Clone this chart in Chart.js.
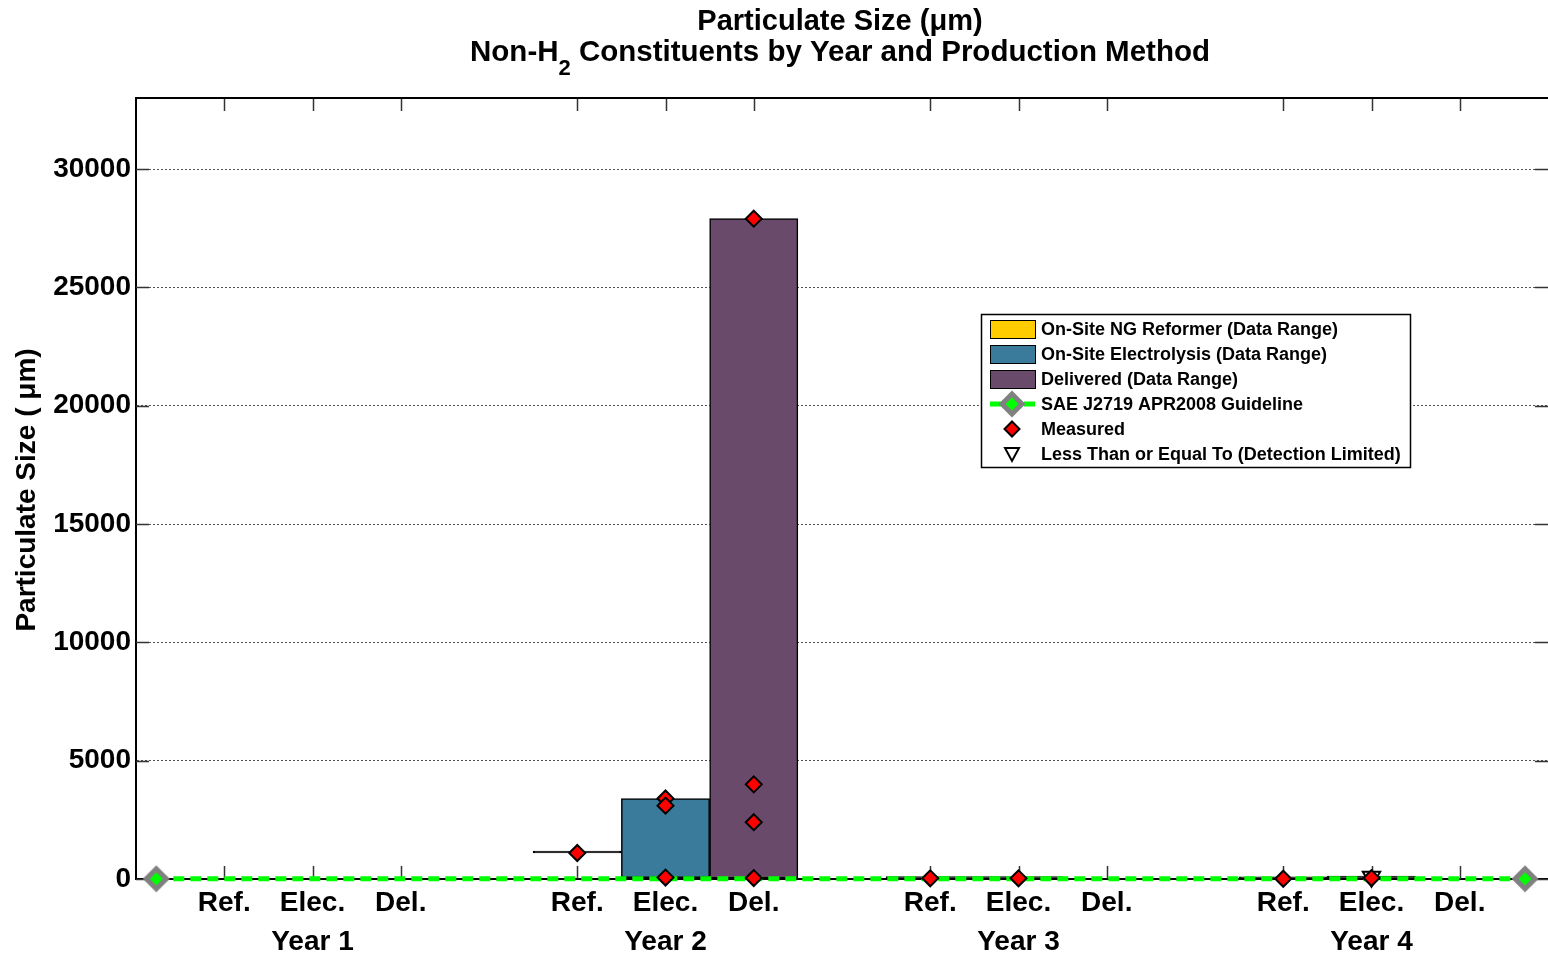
<!DOCTYPE html>
<html>
<head>
<meta charset="utf-8">
<script src="https://cdn.jsdelivr.net/npm/chart.js@4.4.1/dist/chart.umd.min.js"></script>
<style>
  body { margin: 0; background: #fff; }
  #wrap { width: 1548px; height: 957px; }
</style>
</head>
<body>
<div id="wrap"><canvas id="chart" width="1548" height="957"></canvas></div>
<script>
// categories
var years = ['Year 1', 'Year 2', 'Year 3', 'Year 4'];
var methods = ['Ref.', 'Elec.', 'Del.'];
var yTicks = [0, 5000, 10000, 15000, 20000, 25000, 30000];

// data range per year, [min, max] (null = no data)
var refRange = [null, [1100, 1100], [20, 60], [10, 40]];
var elecRange = [null, [60, 3400], [20, 60], [40, 100]];
var delRange = [null, [40, 27900], null, null];

// measured values per year
var refMeasured = [[], [1100], [30], [10]];
var elecMeasured = [[], [3400, 3100, 60], [30], [40]];
var delMeasured = [[], [27900, 4000, 2400, 40], [], []];

// less than or equal to (detection limited)
var elecLessThan = [[], [], [], [100]];

// SAE J2719 guideline
var guideline = 10;
var guidelineSpan = [0.23, 15.74];

// x slot of year i, method j
function slot(i, j) { return i * 4 + j + 1; }

function rangeData(arr, j) {
    var out = [];
    arr.forEach(function(r, i) { if (r) out.push({ x: slot(i, j), y: r }); });
    return out;
}
function pointData(lists) {
    var out = [];
    lists.forEach(function(arr, j) {
        arr.forEach(function(vals, i) {
            vals.forEach(function(v) { out.push({ x: slot(i, j), y: v }); });
        });
    });
    return out;
}

var slotTicks = [];
years.forEach(function(y, i) { methods.forEach(function(m, j) { slotTicks.push(slot(i, j)); }); });

function slotLabel(v) {
    var i = Math.floor((v - 1) / 4), j = (v - 1) % 4;
    if (j === 1) return [methods[j], years[i]];
    return [methods[j], ''];
}

function diamond(g, x, y, r) {
    g.beginPath();
    g.moveTo(x, y - r); g.lineTo(x + r, y); g.lineTo(x, y + r); g.lineTo(x - r, y);
    g.closePath();
}

// guideline marker: gray diamond with green core
var glMark = document.createElement('canvas');
glMark.width = 30; glMark.height = 30;
(function() {
    var g = glMark.getContext('2d');
    g.fillStyle = '#808080'; diamond(g, 15, 15, 13.5); g.fill();
    g.fillStyle = '#00ff00'; diamond(g, 15, 15, 6.5); g.fill();
})();

var COL_REF = '#ffcc00', COL_ELEC = '#3a7a9b', COL_DEL = '#6a4a6a';
var FONT = '"Liberation Sans", Arial, sans-serif';

var decor = {
    id: 'decor',
    beforeDatasetsDraw: function(chart) {
        var c = chart.ctx, a = chart.chartArea, xs = chart.scales.x, ys = chart.scales.y;
        c.save();
        c.strokeStyle = '#333';
        c.lineWidth = 1.5;
        slotTicks.forEach(function(v) {
            var px = Math.round(xs.getPixelForValue(v)) + 0.5;
            c.beginPath(); c.moveTo(px, a.top); c.lineTo(px, a.top + 13); c.stroke();
            c.beginPath(); c.moveTo(px, a.bottom); c.lineTo(px, a.bottom - 13); c.stroke();
        });
        yTicks.forEach(function(v) {
            var py = Math.round(ys.getPixelForValue(v)) + 0.5;
            c.beginPath(); c.moveTo(a.left, py); c.lineTo(a.left + 13, py); c.stroke();
            c.beginPath(); c.moveTo(a.right, py); c.lineTo(a.right - 13, py); c.stroke();
        });
        c.restore();
    },
    afterDraw: function(chart) {
        var c = chart.ctx, a = chart.chartArea;
        c.save();
        // top frame line
        c.strokeStyle = '#000'; c.lineWidth = 2;
        c.beginPath(); c.moveTo(a.left - 1, a.top); c.lineTo(a.right, a.top); c.stroke();

        // title
        c.fillStyle = '#000';
        c.textBaseline = 'alphabetic';
        c.font = 'bold 29px ' + FONT;
        c.textAlign = 'center';
        c.fillText('Particulate Size (\u03bcm)', 840, 30);
        var p1 = 'Non-H', p2 = ' Constituents by Year and Production Method';
        c.font = 'bold 29.5px ' + FONT;
        var w1 = c.measureText(p1).width, w2 = c.measureText(p2).width;
        c.font = 'bold 22px ' + FONT;
        var ws = c.measureText('2').width;
        var x0 = 840 - (w1 + ws + w2) / 2;
        c.textAlign = 'left';
        c.font = 'bold 29.5px ' + FONT;
        c.fillText(p1, x0, 61);
        c.fillText(p2, x0 + w1 + ws, 61);
        c.font = 'bold 22px ' + FONT;
        c.fillText('2', x0 + w1, 75);

        // y title
        c.save();
        c.translate(27, 490);
        c.rotate(-Math.PI / 2);
        c.textAlign = 'center'; c.textBaseline = 'middle';
        c.font = 'bold 28px ' + FONT;
        c.fillText('Particulate Size ( \u03bcm)', 0, 0);
        c.restore();

        // legend
        var lx = 981, ly = 314, lw = 429, lh = 153;
        c.fillStyle = '#fff'; c.fillRect(lx, ly, lw, lh);
        c.strokeStyle = '#000'; c.lineWidth = 1.5; c.strokeRect(lx + 0.5, ly + 0.5, lw, lh);
        var rows = [
            'On-Site NG Reformer (Data Range)',
            'On-Site Electrolysis (Data Range)',
            'Delivered (Data Range)',
            'SAE J2719 APR2008 Guideline',
            'Measured',
            'Less Than or Equal To (Detection Limited)'
        ];
        var cols = [COL_REF, COL_ELEC, COL_DEL];
        rows.forEach(function(t, k) {
            var cy = 329 + k * 25;
            if (k < 3) {
                c.fillStyle = cols[k]; c.fillRect(990, cy - 9, 45, 18);
                c.strokeStyle = '#000'; c.lineWidth = 1; c.strokeRect(990.5, cy - 8.5, 45, 18);
            } else if (k === 3) {
                c.strokeStyle = '#00ff00'; c.lineWidth = 5; c.setLineDash([11, 6]);
                c.beginPath(); c.moveTo(990, cy); c.lineTo(1035, cy); c.stroke();
                c.setLineDash([]);
                c.drawImage(glMark, 1012 - 15, cy - 15);
            } else if (k === 4) {
                c.fillStyle = '#ff0000'; c.strokeStyle = '#000'; c.lineWidth = 2;
                diamond(c, 1012, cy, 7.5); c.fill(); c.stroke();
            } else {
                c.strokeStyle = '#000'; c.lineWidth = 2;
                c.beginPath(); c.moveTo(1005, cy - 6); c.lineTo(1019, cy - 6); c.lineTo(1012, cy + 7); c.closePath(); c.stroke();
            }
            c.fillStyle = '#000';
            c.font = 'bold 18px ' + FONT;
            c.textAlign = 'left'; c.textBaseline = 'middle';
            c.fillText(t, 1041, cy + 1);
        });
        c.restore();
    }
};

function barFill(col) {
    // a range with no spread shows only as its black outline
    return function(ctx) {
        var r = ctx.raw && ctx.raw.y;
        return (r && r[1] - r[0] < 300) ? '#000' : col;
    };
}

var barCommon = {
    type: 'bar',
    grouped: false,
    barPercentage: 1,
    categoryPercentage: 1,
    borderColor: '#000',
    borderWidth: 1.5,
    borderSkipped: false,
    minBarLength: 2,
    order: 4
};

new Chart(document.getElementById('chart').getContext('2d'), {
    type: 'bar',
    data: {
        datasets: [
            Object.assign({}, barCommon, { label: 'On-Site NG Reformer (Data Range)', data: rangeData(refRange, 0), backgroundColor: barFill(COL_REF) }),
            Object.assign({}, barCommon, { label: 'On-Site Electrolysis (Data Range)', data: rangeData(elecRange, 1), backgroundColor: barFill(COL_ELEC) }),
            Object.assign({}, barCommon, { label: 'Delivered (Data Range)', data: rangeData(delRange, 2), backgroundColor: barFill(COL_DEL) }),
            {
                type: 'line',
                label: 'SAE J2719 APR2008 Guideline',
                data: guidelineSpan.map(function(x) { return { x: x, y: guideline }; }),
                borderColor: '#00ff00',
                borderWidth: 5,
                borderDash: [11, 6],
                pointStyle: glMark,
                pointRadius: 13,
                clip: false,
                order: 2
            },
            {
                type: 'scatter',
                label: 'Less Than or Equal To (Detection Limited)',
                data: pointData([[[], [], [], []], elecLessThan, [[], [], [], []]]),
                pointStyle: 'triangle',
                rotation: 180,
                pointRadius: 10,
                backgroundColor: 'rgba(0,0,0,0)',
                borderColor: '#000',
                borderWidth: 2,
                clip: false,
                order: 1
            },
            {
                type: 'scatter',
                label: 'Measured',
                data: pointData([refMeasured, elecMeasured, delMeasured]),
                pointStyle: 'rectRot',
                pointRadius: 8,
                backgroundColor: '#ff0000',
                borderColor: '#000',
                borderWidth: 2,
                clip: false,
                order: 0
            }
        ]
    },
    options: {
        responsive: false,
        animation: false,
        layout: { autoPadding: false, padding: { left: 0, right: 0, top: 98, bottom: 0 } },
        plugins: {
            legend: { display: false },
            tooltip: { enabled: false },
            title: { display: false }
        },
        scales: {
            x: {
                type: 'linear',
                min: 0,
                max: 16,
                offset: false,
                afterBuildTicks: function(axis) {
                    axis.ticks = slotTicks.map(function(v) { return { value: v }; });
                },
                afterFit: function(scale) {
                    scale.height = 78;
                    scale.paddingLeft = 0; scale.paddingRight = 0;
                },
                grid: { display: false, drawTicks: false, offset: false },
                border: { display: true, color: '#000', width: 2 },
                ticks: {
                    autoSkip: false,
                    maxRotation: 0,
                    padding: 4,
                    color: '#000',
                    font: { family: FONT, size: 28, weight: 'bold', lineHeight: 1.42 },
                    callback: function(v) { return slotLabel(v); }
                }
            },
            y: {
                min: 0,
                max: 33000,
                afterBuildTicks: function(axis) {
                    axis.ticks = yTicks.map(function(v) { return { value: v }; });
                },
                afterFit: function(scale) {
                    scale.width = 136;
                    scale.paddingTop = 0; scale.paddingBottom = 0;
                },
                grid: { color: '#555', lineWidth: 1, drawTicks: false },
                border: { display: true, color: '#000', width: 2, dash: [2, 2] },
                ticks: {
                    padding: 5,
                    color: '#000',
                    font: { family: FONT, size: 28, weight: 'bold' },
                    callback: function(v) { return String(v); }
                }
            }
        }
    },
    plugins: [decor]
});
</script>
</body>
</html>
